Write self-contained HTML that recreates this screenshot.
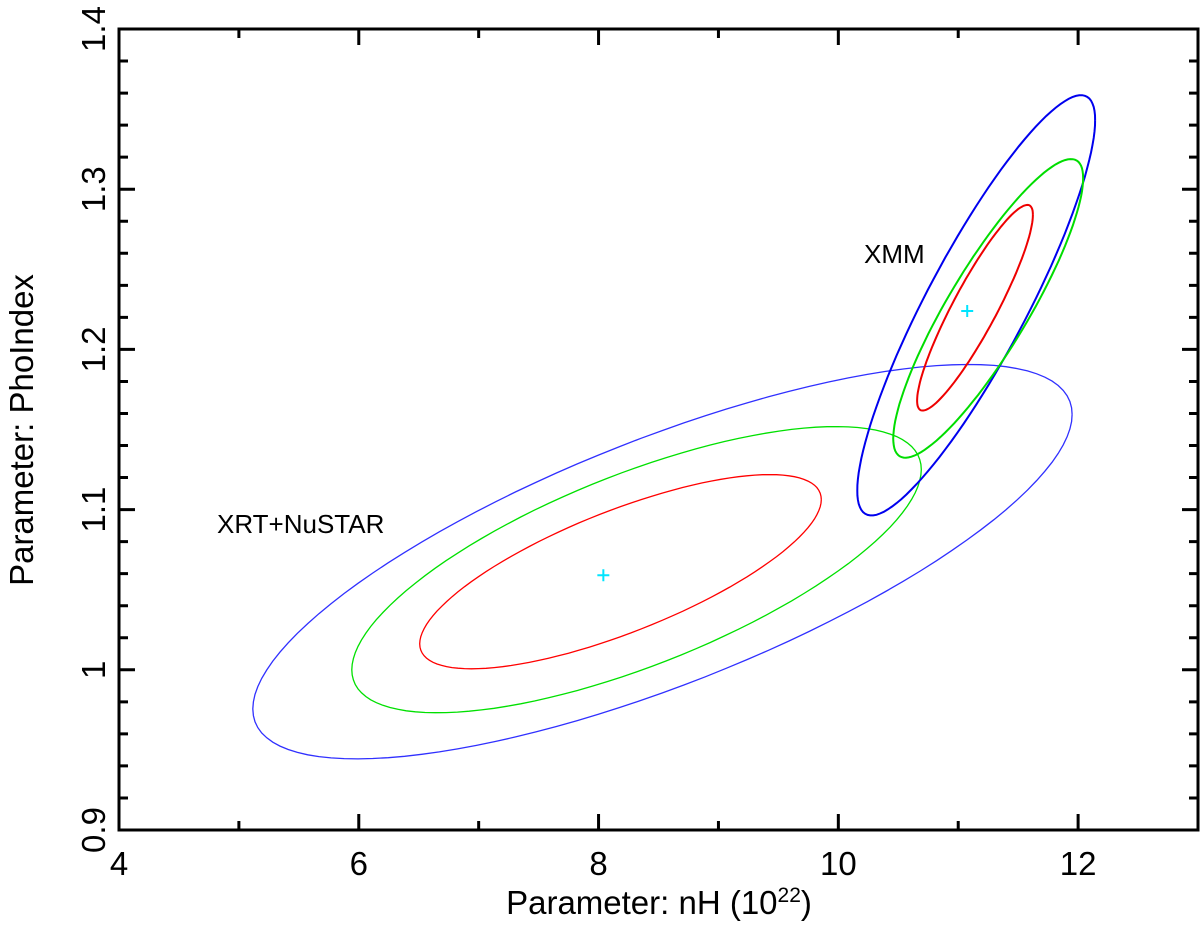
<!DOCTYPE html>
<html><head><meta charset="utf-8"><style>
body{margin:0;background:#fff}
svg text{font-family:"Liberation Sans",sans-serif;fill:#000}
</style></head><body>
<svg id="chart" width="1200" height="921" xmlns="http://www.w3.org/2000/svg">
<g id="axes"></g>
<g id="marks"></g>
<text x="659" y="914" font-size="33" text-anchor="middle">Parameter: nH (10<tspan font-size="21" dy="-12">22</tspan><tspan dy="12">)</tspan></text>
<text transform="translate(33,430) rotate(-90)" font-size="33" text-anchor="middle">Parameter: PhoIndex</text>
<text x="864" y="263" font-size="26">XMM</text>
<text x="217" y="533" font-size="26">XRT+NuSTAR</text>
</svg>
<script>
const xTicks=[4,6,8,10,12];
const yTicks=[0.9,1,1.1,1.2,1.3,1.4];
const yTickLabels=["0.9","1","1.1","1.2","1.3","1.4"];
// contour ellipses: center x, center y, half-width in x, y offset at x-extreme, vertical half-height at center
const contourCx=[8.533,8.317,8.183,11.15,11.25,11.14];
const contourCy=[1.0675,1.0625,1.06125,1.2275,1.2256,1.226];
const contourDx=[3.417,2.375,1.675,0.992,0.792,0.483];
const contourDy=[0.0919,0.0625,0.045,0.1156,0.0813,0.058];
const contourHh=[0.0819,0.0638,0.0406,0.062,0.0456,0.0275];
const contourColor=["#3030ff","#00e000","#ff0000","#0000ee","#00dd00","#ee0000"];
const contourWidth=[1.3,1.3,1.3,2,2,2];
const contourNames=["xrt-blue-contour","xrt-green-contour","xrt-red-contour","xmm-blue-contour","xmm-green-contour","xmm-red-contour"];
const bestX=[8.04,11.075];
const bestY=[1.059,1.224];
const X0=4,X1=13,Y0=0.9,Y1=1.4,L=119,R=1198,T=29,B=830;
const sx=v=>L+(v-X0)/(X1-X0)*(R-L);
const sy=v=>B-(v-Y0)/(Y1-Y0)*(B-T);
const NS="http://www.w3.org/2000/svg";
const axes=document.getElementById('axes'),marks=document.getElementById('marks');
function mk(tag,attrs,parent){const e=document.createElementNS(NS,tag);for(const k in attrs)e.setAttribute(k,attrs[k]);parent.appendChild(e);return e;}
const frame=mk('rect',{x:L,y:T,width:R-L,height:B-T,fill:'none',stroke:'#000','stroke-width':3},axes);


let d='';
for(let v=4;v<=13.001;v+=1){const x=sx(v);const len=(Math.round(v)%2===0)?16:9;d+=`M${x},${B}v${-len}M${x},${T}v${len}`;}
for(let i=0;i<=25;i++){const v=0.9+i*0.02;const y=sy(v);const len=(i%5===0)?16:9;d+=`M${L},${y}h${len}M${R},${y}h${-len}`;}
const tk=mk('path',{d:d,stroke:'#000','stroke-width':3,fill:'none'},axes);


xTicks.forEach(v=>{const t=mk('text',{x:sx(v),y:B+45,'font-size':33,'text-anchor':'middle'},axes);t.textContent=v;

});
yTicks.forEach((v,i)=>{const t=mk('text',{transform:`translate(${L-14},${sy(v)}) rotate(-90)`,'font-size':33,'text-anchor':'middle'},axes);t.textContent=yTickLabels[i];

});
contourCx.forEach((cx,i)=>{
  let pts=[];
  for(let k=0;k<=120;k++){const t=k/120*2*Math.PI;
    const x=cx+contourDx[i]*Math.cos(t);
    const y=contourCy[i]+contourDy[i]*Math.cos(t)+contourHh[i]*Math.sin(t);
    pts.push(sx(x).toFixed(1)+','+sy(y).toFixed(1));}
  const p=mk('polyline',{points:pts.join(' '),fill:'none',stroke:contourColor[i],'stroke-width':contourWidth[i]},marks);
  
  
});
bestX.forEach((bx,i)=>{const x=sx(bx),y=sy(bestY[i]);
  const p=mk('path',{d:`M${x-6},${y}h12M${x},${y-6}v12`,stroke:'#00e5ff','stroke-width':2},marks);
  
  });
</script>
</body></html>
